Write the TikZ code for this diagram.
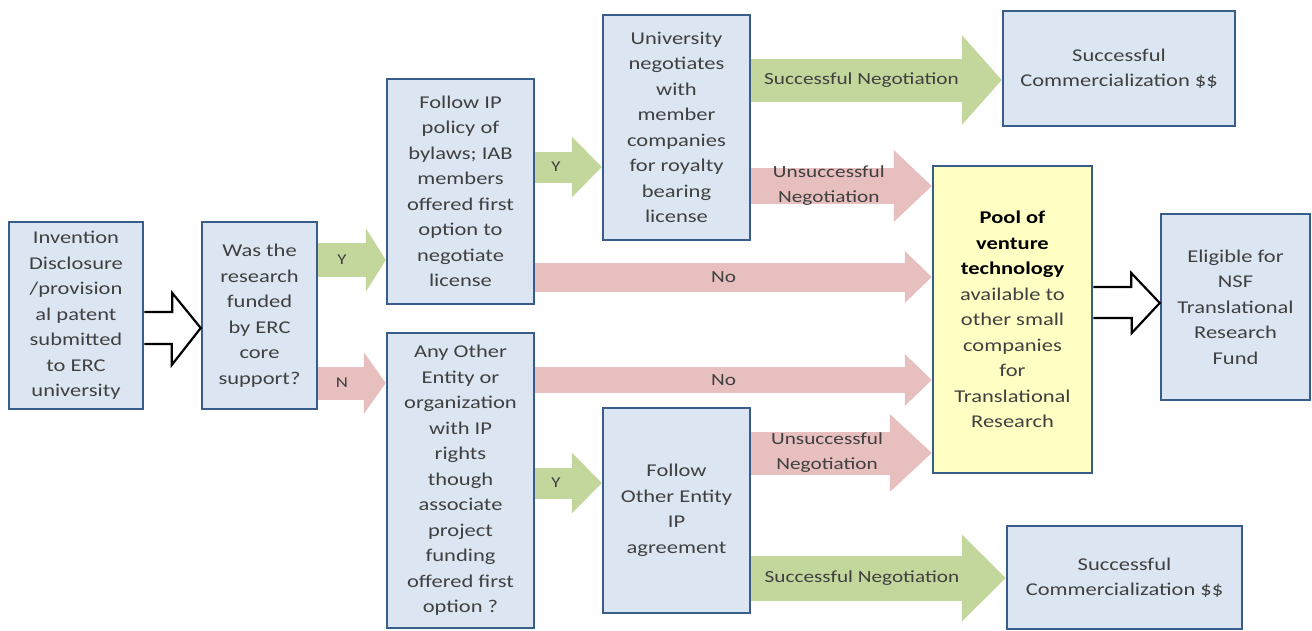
\documentclass[tikz,border=0pt]{standalone}
\usepackage{fontspec}
\setmainfont{Carlito}[FakeStretch=1.25]
\usetikzlibrary{arrows.meta}
\definecolor{boxfill}{HTML}{DCE6F2}
\definecolor{boxline}{HTML}{385D8A}
\definecolor{poolfill}{HTML}{FFFFC4}
\definecolor{yesgreen}{HTML}{C3D69B}
\definecolor{nored}{HTML}{E6BFBE}
\definecolor{txt}{HTML}{404040}

\begin{document}
\begin{tikzpicture}[x=1pt,y=-1pt,
  box/.style={draw=boxline, fill=boxfill, line width=2.5pt, align=center, text=txt, inner sep=2pt, font=\fontsize{18}{25.5}\selectfont},
  lbl/.style={text=txt, align=center, font=\fontsize{17}{25}\selectfont},
  yn/.style={text=txt, font=\fontsize{15}{18}\selectfont},
  fat/.style n args={4}{draw=#1, line width=#2, -{Triangle[length=#3,width=#4,line width=0pt]}},
  hollow/.style={draw=black, fill=white, line width=2.2pt, line join=miter}]
\useasboundingbox (0,0) rectangle (1312,630);

\node[box, minimum width=134pt, minimum height=187pt] (1) at (76,315.5) {Invention\\Disclosure\\/provision\\al patent\\submitted\\to ERC\\university};
\node[box, minimum width=115pt, minimum height=187pt] (2) at (259.5,315.5) {Was the\\research\\funded\\by ERC\\core\\support?};
\node[box, minimum width=147pt, minimum height=225pt] (3) at (460.5,191.5) {Follow IP\\policy of\\bylaws; IAB\\members\\offered first\\option to\\negotiate\\license};
\node[box, minimum width=147pt, minimum height=225pt] (4) at (676.5,127.5) {University\\negotiates\\with\\member\\companies\\for royalty\\bearing\\license};
\node[box, minimum width=147pt, minimum height=295pt] (5) at (460.5,480.5) {Any Other\\Entity or\\organization\\with IP\\rights\\though\\associate\\project\\funding\\offered first\\option ?};
\node[box, minimum width=147pt, minimum height=205pt] (6) at (676.5,510.5) {Follow\\Other Entity\\IP\\agreement};
\node[box, minimum width=232pt, minimum height=115pt] (7) at (1119,68.5) {Successful\\Commercialization \$\$};
\node[box, fill=poolfill, minimum width=159pt, minimum height=307pt] (8) at (1012.5,319.5) {\textcolor{black}{\textbf{Pool of}}\\\textcolor{black}{\textbf{venture}}\\\textcolor{black}{\textbf{technology}}\\available to\\other small\\companies\\for\\Translational\\Research};
\node[box, minimum width=149pt, minimum height=186pt] (9) at (1235.5,307) {Eligible for\\NSF\\Translational\\Research\\Fund};
\node[box, minimum width=235pt, minimum height=103pt] (10) at (1124.5,577.5) {Successful\\Commercialization \$\$};

\path[fat={yesgreen}{34pt}{20pt}{64pt}] (2.east |- 0,260) -- node[yn,pos=0.35] {Y} (3.west |- 0,260);
\path[fat={nored}{33pt}{22pt}{62pt}] (2.east |- 0,383) -- node[yn,pos=0.35] {N} (5.west |- 0,383);
\path[fat={yesgreen}{31pt}{30pt}{61pt}] (3.east |- 0,167) -- node[yn,pos=0.31] {Y} (4.west |- 0,167);
\path[fat={yesgreen}{31pt}{30pt}{61pt}] (5.east |- 0,483) -- node[yn,pos=0.31] {Y} (6.west |- 0,483);
\path[fat={yesgreen}{43pt}{40pt}{90pt}] (4.east |- 0,80) -- node[lbl,pos=0.44] {Successful Negotiation} (7.west |- 0,80);
\path[fat={nored}{36pt}{38pt}{72pt}] (4.east |- 0,186) -- node[lbl,pos=0.43] {Unsuccessful\\Negotiation} (8.west |- 0,186);
\path[fat={nored}{29pt}{27pt}{52pt}] (3.east |- 0,277) -- node[lbl,pos=0.475] {No} (8.west |- 0,277);
\path[fat={nored}{26pt}{27pt}{52pt}] (5.east |- 0,380) -- node[lbl,pos=0.475] {No} (8.west |- 0,380);
\path[fat={nored}{43pt}{42pt}{78pt}] (6.east |- 0,453) -- node[lbl,pos=0.42] {Unsuccessful\\Negotiation} (8.west |- 0,453);
\path[fat={yesgreen}{45pt}{44pt}{87pt}] (6.east |- 0,578) -- node[lbl,pos=0.435] {Successful Negotiation} (10.west |- 0,578);

\path[hollow] (1.east |- 0,312) -- ++(28,0) -- ++(0,-19) -- (2.west |- 0,328) -- ++(-29,37) -- ++(0,-21) -- (1.east |- 0,344);
\path[hollow] (8.east |- 0,287) -- ++(38,0) -- ++(0,-14) -- (9.west |- 0,303) -- ++(-28,30) -- ++(0,-15) -- (8.east |- 0,318);
\end{tikzpicture}
\end{document}
